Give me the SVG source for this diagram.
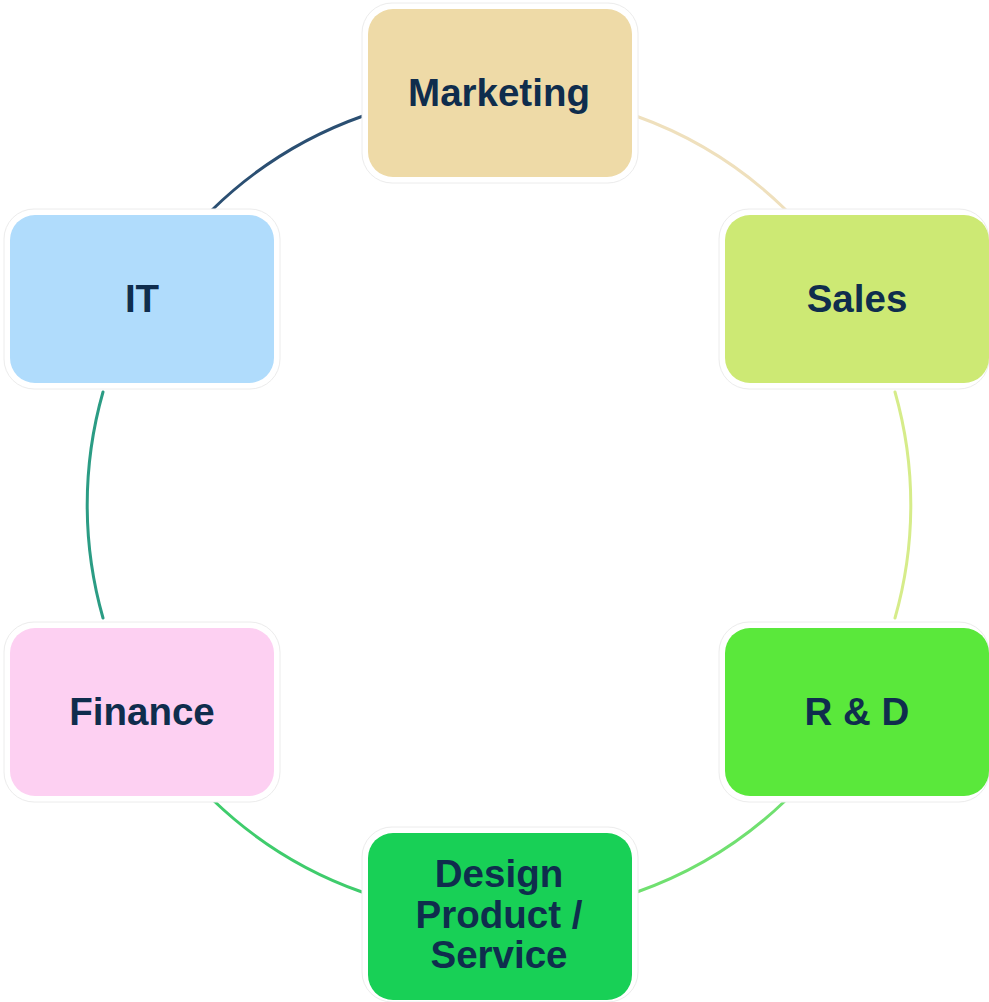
<svg xmlns="http://www.w3.org/2000/svg" width="989" height="1002" viewBox="0 0 989 1002">
<style>
.halo{fill:#fff;stroke:#ececec;stroke-width:1}
.box{stroke:none}
.lbl{font-family:"Liberation Sans",Arial,sans-serif;font-weight:bold;font-size:38.5px;fill:#0f2d4d;text-anchor:middle}
.arc{fill:none;stroke-width:3;stroke-linecap:round}
</style>
<rect width="989" height="1002" fill="#fff"/>
<g id="connectors">
<path class="arc" stroke="#2b4f72" d="M212,210 A412,412 0 0 1 363,116"/>
<path class="arc" stroke="#efe0bd" d="M636,116 A412,412 0 0 1 786,210"/>
<path class="arc" stroke="#d6ec8a" d="M895,392 A412,412 0 0 1 895,618"/>
<path class="arc" stroke="#70e070" d="M786,800 A412,412 0 0 1 637,892"/>
<path class="arc" stroke="#3fcc6c" d="M362,892 A412,412 0 0 1 213,800"/>
<path class="arc" stroke="#2b9c84" d="M103,618 A412,412 0 0 1 103,392"/>
</g>
<g id="marketing">
<rect class="halo" x="362" y="3" width="276" height="180" rx="30"/>
<rect class="box" fill="#eedaa7" x="368" y="9" width="264" height="168" rx="25"/>
<text class="lbl" x="499" y="106">Marketing</text>
</g>
<g id="sales">
<rect class="halo" x="719" y="209" width="270" height="180" rx="30"/>
<rect class="box" fill="#cde974" x="725" y="215" width="264" height="168" rx="25"/>
<text class="lbl" x="857" y="312">Sales</text>
</g>
<g id="it">
<rect class="halo" x="4" y="209" width="276" height="180" rx="30"/>
<rect class="box" fill="#b0dcfc" x="10" y="215" width="264" height="168" rx="25"/>
<text class="lbl" x="142" y="312">IT</text>
</g>
<g id="finance">
<rect class="halo" x="4" y="622" width="276" height="180" rx="30"/>
<rect class="box" fill="#fdd0f2" x="10" y="628" width="264" height="168" rx="25"/>
<text class="lbl" x="142" y="725">Finance</text>
</g>
<g id="rd">
<rect class="halo" x="719" y="622" width="270" height="180" rx="30"/>
<rect class="box" fill="#5ae83b" x="725" y="628" width="264" height="168" rx="25"/>
<text class="lbl" x="857" y="725">R &amp; D</text>
</g>
<g id="design">
<rect class="halo" x="362" y="827" width="276" height="175" rx="30"/>
<rect class="box" fill="#18d056" x="368" y="833" width="264" height="167" rx="25"/>
<text class="lbl" x="499" y="887">Design</text>
<text class="lbl" x="499" y="928">Product /</text>
<text class="lbl" x="499" y="968">Service</text>
</g>
</svg>
